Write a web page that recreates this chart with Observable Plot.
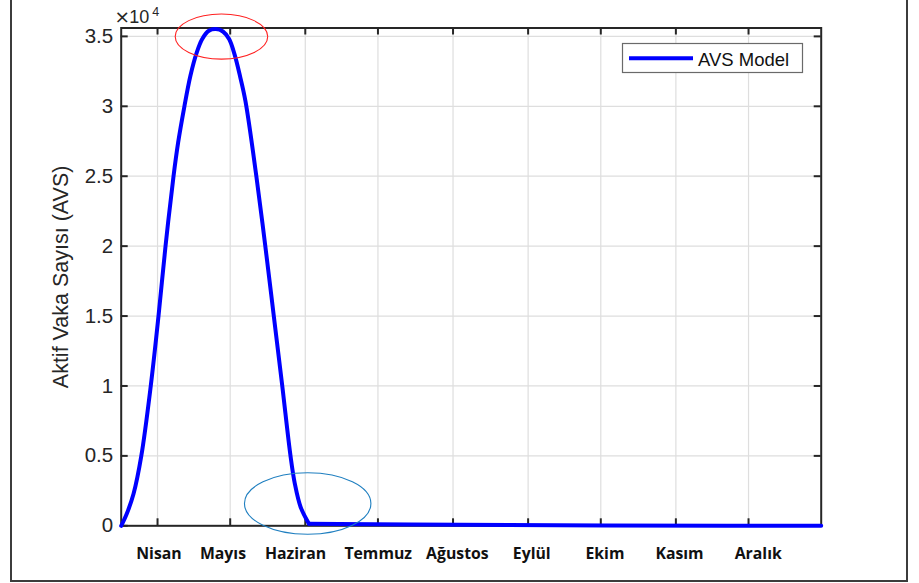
<!DOCTYPE html>
<html>
<head>
<meta charset="utf-8">
<script src="https://cdn.jsdelivr.net/npm/d3@7"></script>
<script src="https://cdn.jsdelivr.net/npm/@observablehq/plot@0.6"></script>
<style>
  html, body { margin: 0; padding: 0; background: #fff; }
  #wrap { position: relative; width: 919px; height: 583px; overflow: hidden; }
  #outer { position: absolute; left: 10px; top: -10px; width: 898px; height: 592px; box-sizing: border-box; border: 2px solid #3c3c3c; pointer-events: none; }
  #legend { position: absolute; left: 0; top: 0; pointer-events: none; }
</style>
</head>
<body>
<div id="wrap"><div id="outer"></div></div>
<script>
// ---- data (days since start of x axis, active case counts) ----
const days   = [0, 2.3, 5.1, 8.3, 12.2, 15.4, 18.3, 21.6, 23.5, 26.1, 28.6, 31.1, 33.4, 36.2, 39.1, 42.0, 44.6, 46.8, 49.0, 51.3, 55.8, 59.5, 63.0, 66.5, 69.9, 71.7, 74.1, 77.5, 90, 120, 160, 200, 250, 289];
const cases  = [0, 860, 2290, 5000, 10000, 15000, 20000, 25000, 27400, 30000, 32200, 33800, 34800, 35400, 35520, 35350, 34800, 33710, 32200, 30370, 25000, 20000, 15000, 10000, 5000, 3000, 1330, 150, 130, 90, 50, 25, 10, 0];
const peakEndDay = 77.5; // where the wave meets the flat tail

const monthTickDays = [15, 45, 76, 106, 137, 168, 198, 229, 259];
const monthLabels   = ["Nisan", "Mayıs", "Haziran", "Temmuz", "Ağustos", "Eylül", "Ekim", "Kasım", "Aralık"];
const monthLabelDays = [15.6, 42, 72, 106.1, 138.8, 169.5, 199.7, 230.5, 263];

const yTickValues = [0, 5000, 10000, 15000, 20000, 25000, 30000, 35000];
const yTickLabels = ["0", "0.5", "1", "1.5", "2", "2.5", "3", "3.5"];

// annotation ellipses (centre and radii in data units)
const ellipseCx = [41.6, 77.2];
const ellipseCy = [34950, 1557];
const ellipseRx = [19.1, 26.1];
const ellipseRy = [1614, 2200];
const ellipseColor = ["#ff2020", "#1f7fc0"];

const series = days.map((d, i) => ({day: d, value: cases[i]}));
const wave = series.filter(d => d.day <= peakEndDay);
const tail = series.filter(d => d.day >= peakEndDay);
const yTicks = yTickValues.map((v, i) => ({v, label: yTickLabels[i]}));
const months = monthLabels.map((m, i) => ({label: m, day: monthLabelDays[i]}));
const ellipses = ellipseCx.map((cx, i) => ({cx, cy: ellipseCy[i], rx: ellipseRx[i], ry: ellipseRy[i], color: ellipseColor[i]}));

const W = 919, H = 583;
const mL = 120.7, mR = 98.3, mT = 27.5, mB = 57.7;
const plotW = W - mL - mR, plotH = H - mT - mB;
const tickLen = 7;
const axisColor = "#262626";
const gridColor = "#dedede";
const font = "'Liberation Sans', Arial, Helvetica, sans-serif";

const ellipseMark = (index, scales) => {
  const g = d3.create("svg:g");
  for (const e of ellipses) {
    const cx = scales.x(e.cx), cy = scales.y(e.cy);
    const rx = Math.abs(scales.x(e.cx + e.rx) - cx);
    const ry = Math.abs(scales.y(e.cy + e.ry) - cy);
    g.append("ellipse").attr("cx", cx).attr("cy", cy).attr("rx", rx).attr("ry", ry)
      .attr("fill", "none").attr("stroke", e.color).attr("stroke-width", 1.1);
  }
  return g.node();
};

// exponent label "×10^4" at top-left corner of the axes
const exponentMark = (index, scales, values, dims) => {
  const g = d3.create("svg:g").attr("fill", axisColor).attr("font-family", font);
  const x0 = dims.marginLeft, y0 = dims.marginTop;
  g.append("text").attr("x", x0 + 1.5).attr("y", y0 - 4.5).attr("font-size", 18.5)
    .attr("font-family", "'DejaVu Sans', sans-serif").text("×");
  g.append("text").attr("x", x0 + 18.5).attr("y", y0 - 4.2).attr("font-size", 18).text("10");
  g.append("text").attr("x", x0 + 35).attr("y", y0 - 11.5).attr("font-size", 12.5).text("4");
  return g.node();
};

const plot = Plot.plot({
  width: W, height: H,
  marginLeft: mL, marginRight: mR, marginTop: mT, marginBottom: mB,
  style: {background: "transparent", fontFamily: font, overflow: "visible"},
  x: {domain: [0, 289], axis: null},
  y: {domain: [0, 35600], axis: null},
  marks: [
    Plot.ruleX(monthTickDays, {x: d => d, stroke: gridColor, strokeWidth: 1.2}),
    Plot.ruleY(yTickValues, {y: d => d, stroke: gridColor, strokeWidth: 1.2}),
    Plot.frame({stroke: axisColor, strokeWidth: 2}),
    // inward ticks bottom / top
    Plot.ruleX(monthTickDays, {x: d => d, stroke: axisColor, strokeWidth: 2, insetTop: plotH - tickLen}),
    Plot.ruleX(monthTickDays, {x: d => d, stroke: axisColor, strokeWidth: 2, insetBottom: plotH - tickLen}),
    // inward ticks left / right
    Plot.ruleY(yTickValues, {y: d => d, stroke: axisColor, strokeWidth: 2, insetRight: plotW - tickLen}),
    Plot.ruleY(yTickValues, {y: d => d, stroke: axisColor, strokeWidth: 2, insetLeft: plotW - tickLen}),
    // y tick labels
    Plot.text(yTicks, {x: () => 0, y: "v", text: "label", textAnchor: "end", dx: -8, fontSize: 20.5, fill: axisColor, fontFamily: font}),
    // month labels
    Plot.text(months, {x: "day", y: () => 0, text: "label", dy: 28, fontSize: 15.8, fontWeight: "bold", fill: "#111", fontFamily: "'Open Sans', 'Noto Sans', sans-serif"}),
    exponentMark,
    // y label
    Plot.text(["Aktif Vaka Sayısı (AVS)"], {frameAnchor: "left", text: d => d, textAnchor: "middle", rotate: -90, dx: -60.5, fontSize: 21.5, fill: axisColor, fontFamily: font}),
    // data line: smooth wave, then the flat tail
    Plot.line(tail, {x: "day", y: "value", stroke: "#0000ff", strokeWidth: 4, curve: "linear"}),
    Plot.line(wave, {x: "day", y: "value", stroke: "#0000ff", strokeWidth: 4, curve: "catmull-rom", strokeLinejoin: "round"}),
    ellipseMark
  ]
});
document.getElementById("wrap").prepend(plot);

// legend overlay
const lg = d3.select("#wrap").append("svg").attr("id", "legend").attr("width", W).attr("height", H);
lg.append("rect").attr("x", 622.5).attr("y", 43.5).attr("width", 180).attr("height", 29)
  .attr("fill", "#fff").attr("stroke", "#6a6a6a").attr("stroke-width", 1.2);
lg.append("line").attr("x1", 629).attr("x2", 693).attr("y1", 58.3).attr("y2", 58.3)
  .attr("stroke", "#0000ff").attr("stroke-width", 4);
lg.append("text").attr("x", 698).attr("y", 65.5).attr("font-size", 18.5).attr("font-family", font)
  .attr("fill", "#111").text("AVS Model");
</script>
</body>
</html>
